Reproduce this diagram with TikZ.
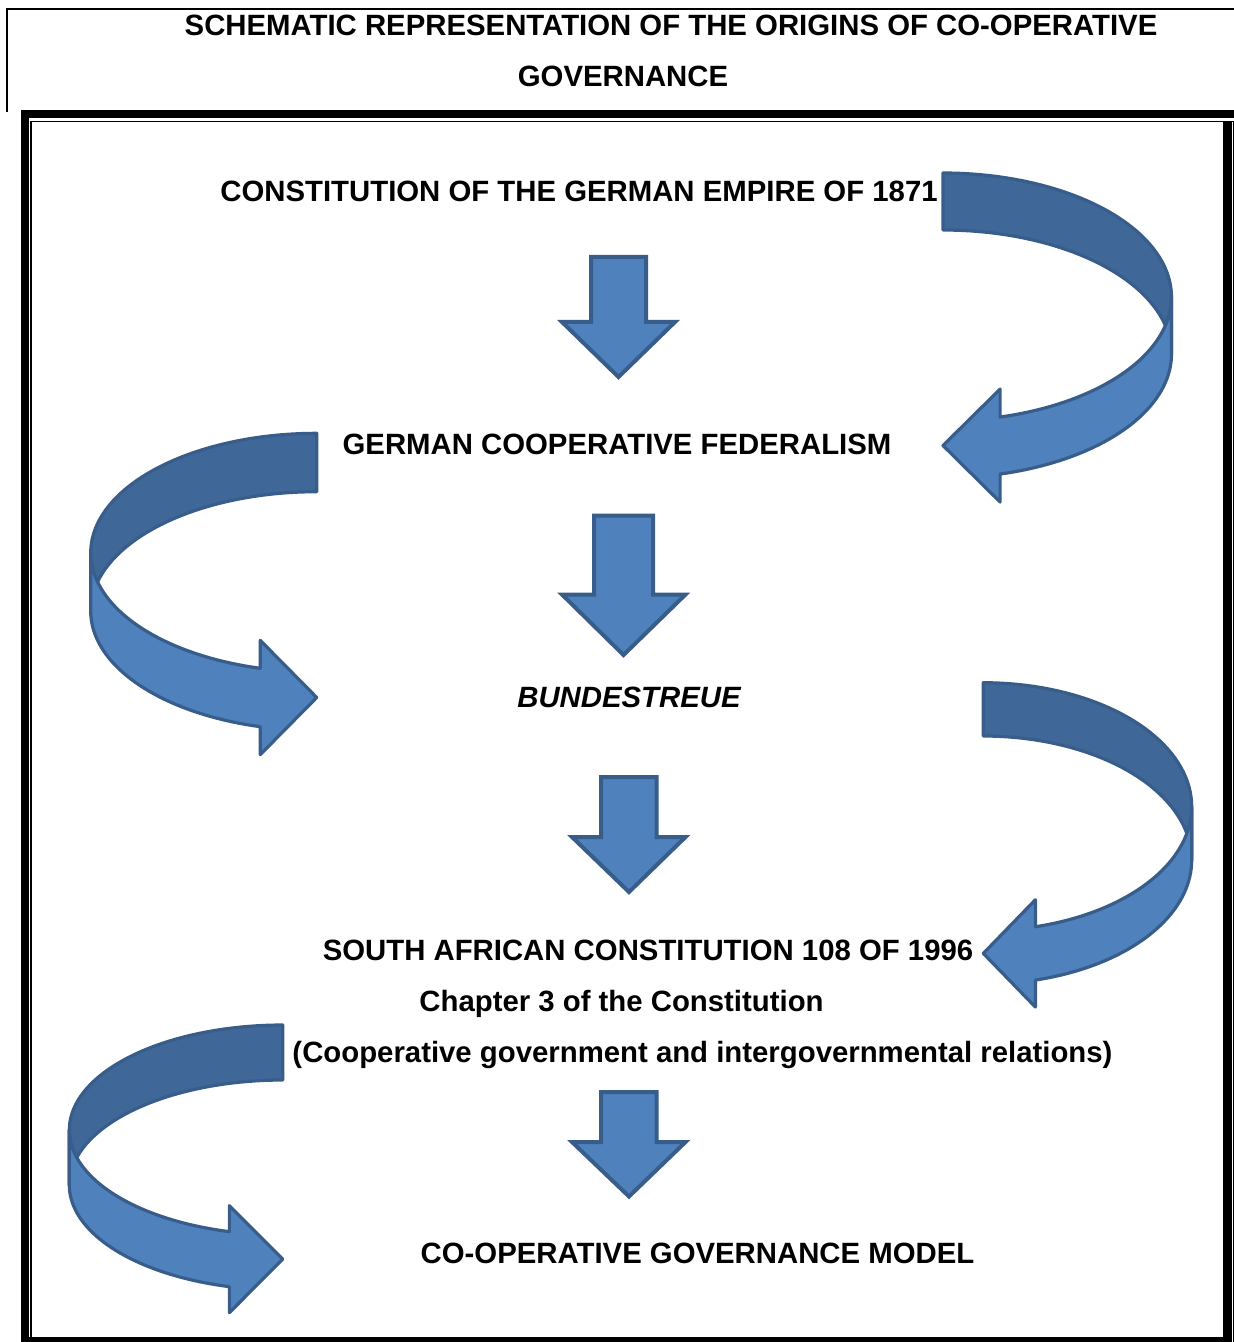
\documentclass[tikz,border=0pt]{standalone}
\usepackage{fontspec}
\setmainfont{Liberation Sans}
\definecolor{front}{HTML}{4F81BD}
\definecolor{back}{HTML}{3F6797}
\definecolor{edge}{HTML}{385D8A}
% Ribbon-style curved arrow: #1,#2 centre of the outer ellipse, #3,#4 radii,
% #5 band thickness, #6 side (1 = bulges right, -1 = bulges left), #7 wing size
\newcommand{\ribbonarrow}[7]{%
  \begin{scope}[shift={(#1,#2)}, xscale=#6]
    \draw[backband] plot[domain=-90:0,samples=40] ({#3*cos(\x)},{#4*sin(\x)})
      -- plot[domain=0:-90,samples=40] ({#3*cos(\x)},{#5+#4*sin(\x)}) -- cycle;
    \draw[frontband] plot[domain=0:75.52,samples=40] ({#3*cos(\x)},{#4*sin(\x)})
      -- ({#3*0.25},{#4*0.9682-#7})
      -- (0,{#5/2+#4*0.9682})
      -- ({#3*0.25},{#5+#4*0.9682+#7})
      -- plot[domain=75.52:0,samples=40] ({#3*cos(\x)},{#5+#4*sin(\x)}) -- cycle;
  \end{scope}}
% Straight block arrow pointing down
\newcommand{\blockdown}[8]{%
  \draw[blockarrow] (#1,#3) -- (#2,#3) -- (#2,#4) -- (#6,#4) -- (#7,#8)
    -- (#5,#4) -- (#1,#4) -- cycle;}
\begin{document}
\begin{tikzpicture}[x=0.5pt,y=-0.5pt,
  lbl/.style={font=\fontsize{14.67}{17}\selectfont\bfseries, inner sep=0pt, anchor=base},
  blockarrow/.style={fill=front, draw=edge, line width=2pt, line join=miter},
  backband/.style={fill=back, draw=edge, line width=1.6pt, line join=round},
  frontband/.style={fill=front, draw=edge, line width=1.6pt, line join=round},
  thick rule/.style={line width=4.2pt},
  thin rule/.style={line width=0.7pt}]
\useasboundingbox (0,0) rectangle (1234,1342);

% title box
\draw[line width=1.4pt] (1240,9) -- (7,9) -- (7,112);
% page border: thick outer strokes and thin inner strokes
\draw[thick rule] (21,114) -- (1240,114);
\draw[thick rule] (25,110) -- (25,1350);
\draw[thick rule] (1227.5,121) -- (1227.5,1350);
\draw[thick rule] (21,1341.5) -- (1231.7,1341.5);
\draw[thin rule] (31,1338) -- (31,121.3) -- (1233.2,121.3) -- (1233.2,1350);
\draw[thin rule] (31,1338) -- (1223,1338);

% texts
\node[lbl] (title1) at (671,36) {SCHEMATIC REPRESENTATION OF THE ORIGINS OF CO-OPERATIVE};
\node[lbl] (title2) at (623,86.5) {GOVERNANCE};
\node[lbl] (empire) at (579,201.5) {CONSTITUTION OF THE GERMAN EMPIRE OF 1871};
\node[lbl] (federal) at (617,454.5) {GERMAN COOPERATIVE FEDERALISM};
\node[lbl] (treue) at (629,707.5) {\itshape BUNDESTREUE};
\node[lbl] (sa) at (648,960.5) {SOUTH AFRICAN CONSTITUTION 108 OF 1996};
\node[lbl] (chap) at (621.5,1011.5) {Chapter 3 of the Constitution};
\node[lbl] (coop) at (702.5,1062) {(Cooperative government and intergovernmental relations)};
\node[lbl] (model) at (697.5,1263.5) {CO-OPERATIVE GOVERNANCE MODEL};

% straight arrows between the stages
\blockdown{591}{646}{257}{322}{562}{675}{618.5}{377}
\blockdown{594}{653}{515.5}{594.5}{562}{685.5}{623.5}{655}
\blockdown{601}{656.5}{777}{837}{572}{685.5}{629}{892}
\blockdown{601}{656.5}{1092}{1142}{572}{685.5}{629}{1196.5}

% curved arrows
\ribbonarrow{943}{297}{228.5}{124}{57}{1}{28}
\ribbonarrow{316.7}{552.7}{226}{119.4}{58.4}{-1}{28}
\ribbonarrow{983.3}{806.7}{208.4}{124}{53.3}{1}{27}
\ribbonarrow{282.7}{1130}{213.4}{105}{55}{-1}{26}
\end{tikzpicture}
\end{document}
